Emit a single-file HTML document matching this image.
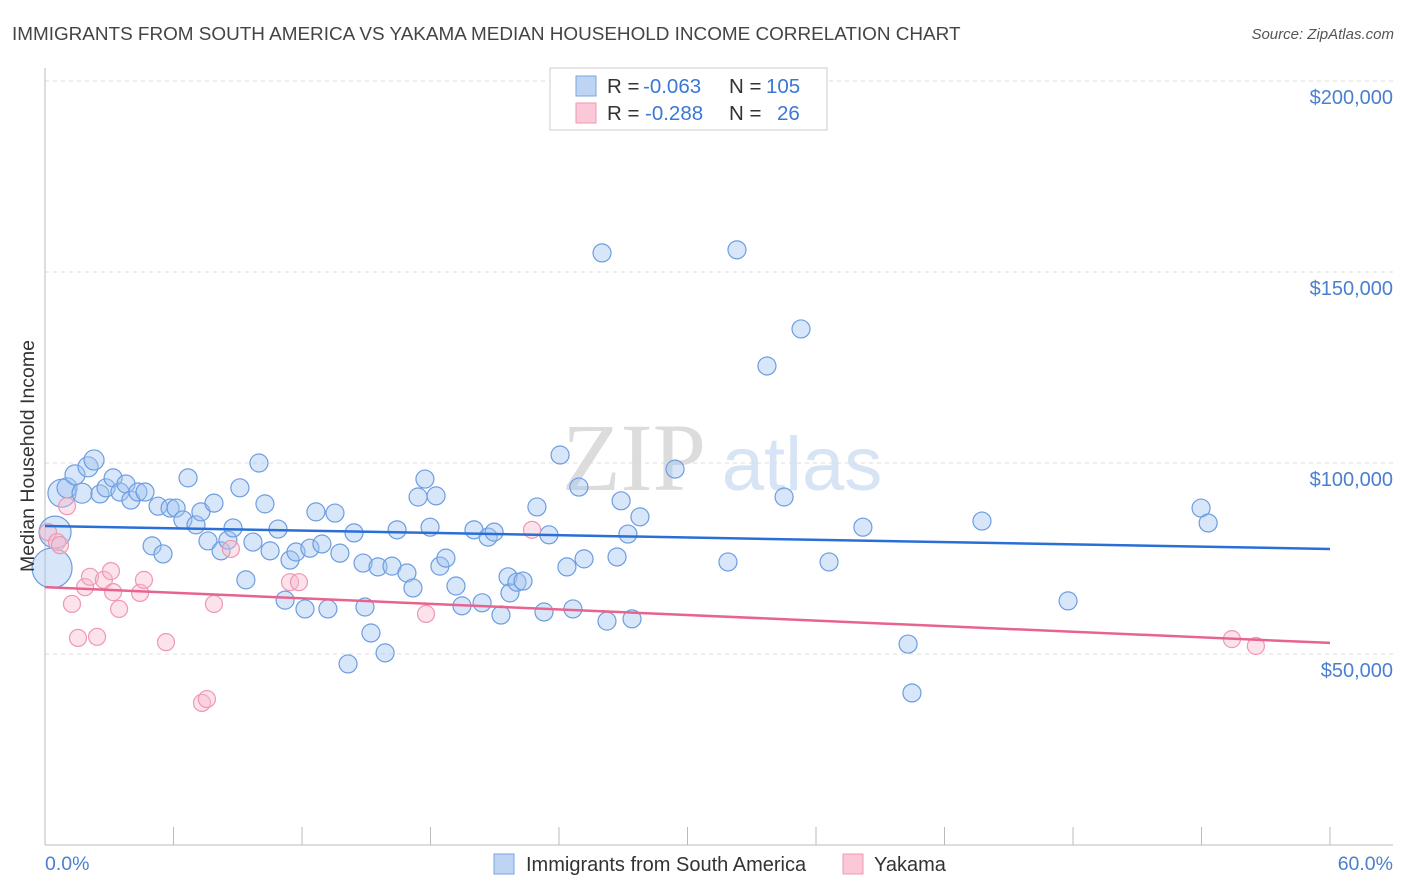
<!DOCTYPE html>
<html><head><meta charset="utf-8"><style>
body{margin:0;background:#fff;font-family:"Liberation Sans",sans-serif;}
#wrap{position:relative;width:1406px;height:892px;overflow:hidden}
</style></head><body>
<div id="wrap">
<svg id="svg" width="1406" height="892">
<text x="12" y="40" font-size="18.9" fill="#444">IMMIGRANTS FROM SOUTH AMERICA VS YAKAMA MEDIAN HOUSEHOLD INCOME CORRELATION CHART</text>
<text x="1394" y="39" font-size="15" fill="#555" font-style="italic" text-anchor="end">Source: ZipAtlas.com</text>
<text x="634" y="490" font-size="96" fill="#dcdcdc" font-family="Liberation Serif" text-anchor="middle">ZIP</text>
<text x="802" y="490" font-size="76" fill="#d6e4f5" text-anchor="middle">atlas</text>
<g id="grid"></g><g id="marks"></g>
<text transform="translate(34,456) rotate(-90)" font-size="19.5" fill="#333" text-anchor="middle">Median Household Income</text>
<text x="45" y="870" font-size="19.5" fill="#4a7fd0">0.0%</text>
<text x="1393" y="870" font-size="19.5" fill="#4a7fd0" text-anchor="end">60.0%</text>
<rect x="550" y="68" width="277" height="62" fill="#fff" stroke="#ccc"/>
<rect x="576" y="76" width="20" height="20" fill="#bdd4f3" stroke="#7aa5e0"/>
<rect x="576" y="103" width="20" height="20" fill="#fac8d6" stroke="#ef9ab3"/>
<text x="607" y="93" font-size="20.5" fill="#333">R = <tspan fill="#3a78d4" x="643">-0.063</tspan><tspan x="729">N = </tspan><tspan fill="#3a78d4" x="766">105</tspan></text>
<text x="607" y="120" font-size="20.5" fill="#333">R = <tspan fill="#3a78d4" x="645">-0.288</tspan><tspan x="729">N = </tspan><tspan fill="#3a78d4" x="777">26</tspan></text>
<rect x="494" y="854" width="20" height="20" fill="#bdd4f3" stroke="#7aa5e0"/>
<text x="526" y="871" font-size="20" fill="#333">Immigrants from South America</text>
<rect x="843" y="854" width="20" height="20" fill="#fac8d6" stroke="#ef9ab3"/>
<text x="874" y="871" font-size="20" fill="#333">Yakama</text>
</svg></div>
<script>
const yTicks=[50000,100000,150000,200000];
const yTickLabels=["$50,000","$100,000","$150,000","$200,000"];
const xTicks=[6,12,18,24,30,36,42,48,54,60];
const blueX=[0.33,0.47,0.79,1.03,1.40,1.73,2.01,2.29,2.57,2.85,3.18,3.50,3.78,4.01,4.34,4.67,5.00,5.28,5.51,5.84,6.12,6.44,6.68,7.05,7.28,7.61,7.89,8.22,8.54,8.78,9.10,9.38,9.71,9.99,10.27,10.51,10.88,11.21,11.44,11.72,12.14,12.37,12.65,12.93,13.21,13.54,13.77,14.15,14.43,14.85,14.94,15.22,15.55,15.88,16.20,16.44,16.90,17.18,17.42,17.74,17.98,18.26,18.44,18.72,19.19,19.47,20.03,20.41,20.69,20.97,21.29,21.62,21.71,22.04,22.32,22.97,23.30,23.53,24.05,24.37,24.65,24.93,25.17,26.24,26.71,26.90,27.22,27.41,27.78,26.01,29.42,31.89,32.31,33.71,34.51,35.30,36.61,38.19,40.30,40.48,43.75,47.77,53.98,54.31];
const blueY=[72.5,81.9,92.1,93.5,96.9,92.1,99.0,100.8,91.9,93.5,96.1,92.4,94.5,90.3,92.4,92.4,78.3,88.7,76.2,88.2,88.2,85.1,96.1,83.8,87.2,79.6,89.5,77.0,79.8,83.0,93.5,69.4,79.3,100.0,89.3,77.0,82.7,64.1,74.6,76.7,61.8,77.7,87.2,78.8,61.8,86.9,76.4,47.4,81.7,73.8,62.3,55.5,72.8,50.3,73.0,82.5,71.2,67.3,91.1,95.8,83.2,91.4,73.0,75.1,67.8,62.6,82.5,63.4,80.6,81.9,60.2,70.2,66.0,68.8,69.1,88.5,61.0,81.2,102.1,72.8,61.8,93.7,74.9,58.6,75.4,90.1,81.4,59.2,85.9,155.0,98.4,74.1,155.8,125.4,91.1,135.1,74.1,83.2,52.6,39.8,84.8,63.9,88.2,84.3].map(v=>v*1000);
const blueR=[20,16,14,10,10,10,10,10].concat(new Array(96).fill(9));
const pinkX=[0.14,0.56,0.70,1.03,1.26,1.54,1.87,2.10,2.43,2.75,3.08,3.18,3.46,4.44,4.62,5.65,7.33,7.56,7.89,8.68,11.44,11.86,17.79,22.74,55.42,56.54];
const pinkY=[81.9,79.3,78.5,88.7,63.1,54.2,67.5,70.2,54.5,69.4,71.7,66.2,61.8,66.0,69.4,53.1,37.2,38.2,63.1,77.5,68.8,68.8,60.5,82.5,53.9,52.1].map(v=>v*1000);
const blueTrend=[83500,77500];
const pinkTrend=[67500,52900];
const X=p=>45+p/60*1285, Y=v=>845-v/50000*191;
const NS="http://www.w3.org/2000/svg";
const grid=document.getElementById('grid'),marks=document.getElementById('marks');
function mk(tag,at,parent){const e=document.createElementNS(NS,tag);for(const k in at)e.setAttribute(k,at[k]);parent.appendChild(e);return e;}
yTicks.forEach((t,i)=>{
 const l=mk('line',{x1:45,x2:1393,y1:Y(t),y2:Y(t),stroke:'#ddd','stroke-dasharray':'4,4'},grid);
 
 
 const tx=mk('text',{x:1393,y:Y(t)+23,'font-size':20,fill:'#4a7fd0','text-anchor':'end'},grid);
 tx.textContent=yTickLabels[i];
 
 
});
const ax=mk('line',{x1:45,x2:45,y1:68,y2:845,stroke:'#bbb'},grid);


const bx=mk('line',{x1:45,x2:1393,y1:845,y2:845,stroke:'#bbb'},grid);


xTicks.forEach(t=>{
 const l=mk('line',{x1:X(t),x2:X(t),y1:827,y2:845,stroke:'#bbb'},grid);
 
 
});
blueX.forEach((x,i)=>{
 const c=mk('circle',{cx:X(x),cy:Y(blueY[i]),r:blueR[i]||9,fill:'rgba(160,195,240,0.42)',stroke:'#6d9de0','stroke-width':1.2},marks);
 
 
});
pinkX.forEach((x,i)=>{
 const c=mk('circle',{cx:X(x),cy:Y(pinkY[i]),r:8.5,fill:'rgba(248,185,205,0.42)',stroke:'#ef98b2','stroke-width':1.2},marks);
 
 
});
const tb=mk('line',{x1:X(0),x2:X(60),y1:Y(blueTrend[0]),y2:Y(blueTrend[1]),stroke:'#2a6fd6','stroke-width':2.5},marks);


const tp=mk('line',{x1:X(0),x2:X(60),y1:Y(pinkTrend[0]),y2:Y(pinkTrend[1]),stroke:'#e8648f','stroke-width':2.5},marks);


</script>
</body></html>
